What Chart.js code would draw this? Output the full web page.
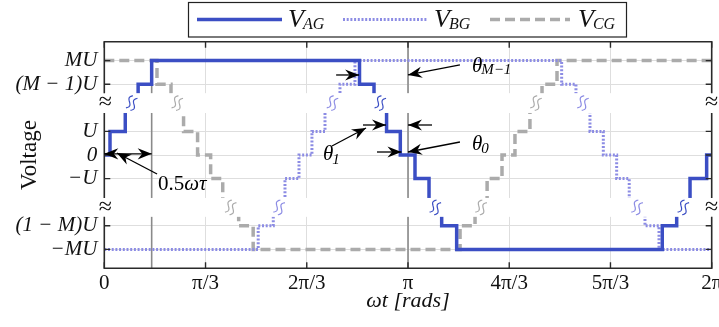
<!DOCTYPE html>
<html><head><meta charset="utf-8">
<script src="https://cdn.jsdelivr.net/npm/chart.js@4.4.1/dist/chart.umd.min.js"></script>
<style>html,body{margin:0;padding:0;overflow:hidden;background:#fff;width:719px;height:327px}canvas{display:block}</style>
</head><body>
<canvas id="c" width="740" height="327" style="width:740px;height:327px"></canvas>
<script>
const PI = Math.PI;
// ---- tick values and labels ----
const xTickValues = [0, PI/3, 2*PI/3, PI, 4*PI/3, 5*PI/3, 2*PI];
const xTickLabels = ['0', 'π/3', '2π/3', 'π', '4π/3', '5π/3', '2π'];
const yTickValues = [-4, -3, -1, 0, 1, 3, 4];
const yTickLabels = ['−MU', '(1 − M)U', '−U', '0', 'U', '(M − 1)U', 'MU'];

// ---- series: switching angles (rad) and the level reached there ----
const vagX = [0, 0.059, 0.217, 0.350, 0.490, 2.640, 2.790, 2.920, 3.062, 3.214, 3.359, 3.490, 3.645, 5.772, 5.921, 6.059, 6.231, 6.2832];
const vagY = [0, 1, 2, 3, 4, 3, 2, 1, 0, -1, -2, -3, -4, -3, -2, -1, 0, 0];
const vbgX = [0, 1.592, 1.748, 1.869, 2.014, 2.148, 2.283, 2.438, 2.593, 4.731, 4.879, 5.024, 5.162, 5.300, 5.430, 5.593, 5.738, 6.2832];
const vbgY = [-4, -3, -2, -1, 0, 1, 2, 3, 4, 3, 2, 1, 0, -1, -2, -3, -4, -4];
const vcgX = [0, 0.545, 0.690, 0.820, 0.965, 1.100, 1.225, 1.390, 1.540, 3.680, 3.835, 3.960, 4.114, 4.248, 4.403, 4.528, 4.683, 6.2832];
const vcgY = [4, 3, 2, 1, 0, -1, -2, -3, -4, -3, -2, -1, 0, 1, 2, 3, 4, 4];

// ---- annotation geometry (data coordinates) ----
const markerLines = [0.49, PI];
const breakBands = [[1.78, 2.62], [-2.62, -1.82]];
const hiddenLevels = [2, -2];
const arrows = [
  [0, 0.05, 0.49, 0.05, true],
  [0.546, -0.805, 0.131, 0.085, false],
  [2.398, 3.39, 2.636, 3.39, false],
  [3.679, 3.814, PI, 3.39, false],
  [2.676, 1.271, 2.914, 1.271, false],
  [3.39, 1.271, PI, 1.271, false],
  [2.355, 0.381, 2.707, 1.144, false],
  [2.821, 0.127, 3.074, 0.127, false],
  [3.679, 0.551, PI, 0.127, false]
];

const SERIF = '"Liberation Serif", "Times New Roman", serif';
const pts = (xs, ys) => xs.map((x, i) => ({x, y: ys[i]}));

function head(ctx, x1, y1, x2, y2) {
  const a = Math.atan2(y2 - y1, x2 - x1), L = 14, W = 5.6;
  const c = Math.cos(a), s = Math.sin(a);
  ctx.beginPath();
  ctx.moveTo(x2, y2);
  ctx.lineTo(x2 - L*c - W*s, y2 - L*s + W*c);
  ctx.lineTo(x2 - 0.68*L*c, y2 - 0.68*L*s);
  ctx.lineTo(x2 - L*c + W*s, y2 - L*s - W*c);
  ctx.closePath();
  ctx.fill();
}
function tildePair(ctx, cx, cy, color) {
  ctx.save();
  ctx.translate(cx, cy);
  ctx.rotate(-PI / 3);
  ctx.strokeStyle = color; ctx.lineWidth = 1.2;
  [-2.6, 2.6].forEach(off => {
    ctx.beginPath();
    for (let t = -7; t <= 7.01; t += 0.5) {
      const yy = off - 2.2 * Math.sin(t / 7 * PI);
      if (t === -7) ctx.moveTo(t, yy); else ctx.lineTo(t, yy);
    }
    ctx.stroke();
  });
  ctx.restore();
}
function subText(ctx, x, y, main, sub, ms, ss, dy, mainStyle) {
  ctx.font = (mainStyle || 'italic') + ' ' + ms + 'px ' + SERIF;
  ctx.fillText(main, x, y);
  const w = ctx.measureText(main).width;
  ctx.font = 'italic ' + ss + 'px ' + SERIF;
  ctx.fillText(sub, x + w - 1, y + dy);
}

const deco = {
  id: 'deco',
  beforeDatasetsDraw(chart) {
    const {ctx, chartArea: a, scales: {x, y}} = chart;
    ctx.save();
    ctx.strokeStyle = '#8a8a8a'; ctx.lineWidth = 1.6;
    markerLines.forEach((m, i) => {
      const px = x.getPixelForValue(m);
      ctx.beginPath();
      ctx.moveTo(px, i === 0 ? y.getPixelForValue(4) : a.top);
      ctx.lineTo(px, a.bottom);
      ctx.stroke();
    });
    ctx.restore();
  },
  afterDatasetsDraw(chart) {
    const {ctx, chartArea: a, scales: {x, y}} = chart;
    ctx.save();
    // break bands
    const bands = breakBands.map(b => [y.getPixelForValue(b[1]), y.getPixelForValue(b[0])]);
    ctx.fillStyle = '#fff';
    bands.forEach(b => ctx.fillRect(a.left - 1, b[0], a.right - a.left + 2, b[1] - b[0]));
    // frame
    ctx.strokeStyle = '#2a2a2a'; ctx.lineWidth = 1.6;
    ctx.beginPath();
    ctx.moveTo(a.left - 0.8, a.top); ctx.lineTo(a.right + 0.8, a.top);
    ctx.moveTo(a.left - 0.8, a.bottom); ctx.lineTo(a.right + 0.8, a.bottom);
    [a.left, a.right].forEach(px => {
      ctx.moveTo(px, a.top); ctx.lineTo(px, bands[0][0]);
      ctx.moveTo(px, bands[0][1]); ctx.lineTo(px, bands[1][0]);
      ctx.moveTo(px, bands[1][1]); ctx.lineTo(px, a.bottom);
    });
    ctx.stroke();
    // inward ticks
    ctx.lineWidth = 1.4;
    ctx.beginPath();
    xTickValues.forEach(v => {
      const px = x.getPixelForValue(v);
      ctx.moveTo(px, a.top); ctx.lineTo(px, a.top + 6);
      ctx.moveTo(px, a.bottom); ctx.lineTo(px, a.bottom - 6);
    });
    yTickValues.forEach(v => {
      const py = y.getPixelForValue(v);
      ctx.moveTo(a.left, py); ctx.lineTo(a.left + 6, py);
      ctx.moveTo(a.right, py); ctx.lineTo(a.right - 6, py);
    });
    ctx.stroke();
    // axis break glyphs
    ctx.fillStyle = '#111';
    ctx.textAlign = 'center'; ctx.textBaseline = 'middle';
    ctx.font = '24px ' + SERIF;
    bands.forEach(b => {
      const cy = (b[0] + b[1]) / 2;
      ctx.fillText('≈', a.left + 1, cy);
      ctx.fillText('≈', a.right, cy);
    });
    // series break marks
    chart.data.datasets.forEach(ds => {
      ds.data.forEach((p, i) => {
        const k = hiddenLevels.indexOf(p.y);
        if (k < 0 || i + 1 >= ds.data.length) return;
        const mx = x.getPixelForValue((p.x + ds.data[i + 1].x) / 2);
        const cy = (bands[k][0] + bands[k][1]) / 2;
        tildePair(ctx, mx, cy, ds.borderColor);
      });
    });
    // arrows
    ctx.strokeStyle = '#000'; ctx.fillStyle = '#000'; ctx.lineWidth = 1.3;
    arrows.forEach(ar => {
      const x1 = x.getPixelForValue(ar[0]), y1 = y.getPixelForValue(ar[1]);
      const x2 = x.getPixelForValue(ar[2]), y2 = y.getPixelForValue(ar[3]);
      ctx.beginPath(); ctx.moveTo(x1, y1); ctx.lineTo(x2, y2); ctx.stroke();
      head(ctx, x1, y1, x2, y2);
      if (ar[4]) head(ctx, x2, y2, x1, y1);
    });
    // annotation texts
    ctx.textAlign = 'left'; ctx.textBaseline = 'alphabetic';
    let tx = x.getPixelForValue(0.555), ty = y.getPixelForValue(-1.483);
    ctx.font = '21px ' + SERIF; ctx.fillText('0.5', tx, ty);
    let w = ctx.measureText('0.5').width;
    ctx.font = 'italic 21px ' + SERIF; ctx.fillText('ωτ', tx + w, ty);
    subText(ctx, x.getPixelForValue(3.803), y.getPixelForValue(3.53), 'θ', 'M−1', 21, 15, 2.5);
    subText(ctx, x.getPixelForValue(3.803), y.getPixelForValue(0.212), 'θ', '0', 21, 15, 3);
    subText(ctx, x.getPixelForValue(2.262), y.getPixelForValue(-0.212), 'θ', '1', 21, 15, 4);
    // legend
    ctx.fillStyle = '#fff'; ctx.strokeStyle = '#222'; ctx.lineWidth = 1.2;
    ctx.fillRect(188, 2, 439, 35); ctx.strokeRect(188.5, 2.5, 438, 34.5);
    const legendX = [[197, 282, 288], [343, 427, 434], [490, 570, 578]];
    const legendSub = ['AG', 'BG', 'CG'];
    chart.data.datasets.forEach((ds, i) => {
      const [s0, s1, t0] = legendX[i];
      ctx.save();
      ctx.strokeStyle = ds.borderColor; ctx.lineWidth = ds.borderWidth;
      ctx.setLineDash(ds.borderDash || []);
      ctx.beginPath(); ctx.moveTo(s0, 19.5); ctx.lineTo(s1, 19.5); ctx.stroke();
      ctx.restore();
      ctx.fillStyle = '#111';
      subText(ctx, t0, 26.7, 'V', legendSub[i], 26, 16, 2);
    });
    ctx.restore();
  }
};

new Chart(document.getElementById('c'), {
  type: 'line',
  data: {
    datasets: [
      {label: 'V_AG', data: pts(vagX, vagY), borderColor: '#3b4ec4', borderWidth: 3.5, stepped: true, pointRadius: 0, fill: false, borderJoinStyle: 'miter', borderCapStyle: 'butt'},
      {label: 'V_BG', data: pts(vbgX, vbgY), borderColor: '#8c8ce4', borderWidth: 3, borderDash: [2, 1.7], stepped: true, pointRadius: 0, fill: false, borderJoinStyle: 'miter', borderCapStyle: 'butt'},
      {label: 'V_CG', data: pts(vcgX, vcgY), borderColor: '#ababab', borderWidth: 3.5, borderDash: [10, 5], stepped: true, pointRadius: 0, fill: false, borderJoinStyle: 'miter', borderCapStyle: 'butt'}
    ]
  },
  options: {
    responsive: false, animation: false, devicePixelRatio: 1,
    layout: {padding: {top: 41.7, right: 28.3, bottom: 0, left: 0}},
    plugins: {legend: {display: false}, tooltip: {enabled: false}},
    scales: {
      x: {
        type: 'linear', min: 0, max: 2*PI,
        afterBuildTicks: s => { s.ticks = xTickValues.map(v => ({value: v})); },
        afterFit: s => { s.height = 58.7; },
        ticks: {callback: (v, i) => xTickLabels[i], font: {family: SERIF, size: 21}, color: '#111', padding: 3, maxRotation: 0, autoSkip: false},
        grid: {color: '#dedede', lineWidth: 1, drawTicks: false},
        border: {display: false},
        title: {display: true, text: 'ωt [rads]', font: {family: SERIF, size: 22, style: 'italic'}, color: '#111', padding: {top: 0, bottom: 13}}
      },
      y: {
        type: 'linear', min: -4.8, max: 4.8,
        afterBuildTicks: s => { s.ticks = yTickValues.map(v => ({value: v})); },
        afterFit: s => { s.width = 104.3; },
        ticks: {callback: (v, i) => yTickLabels[i], font: {family: SERIF, size: 21, style: 'italic'}, color: '#111', padding: 7, autoSkip: false},
        grid: {color: '#dedede', lineWidth: 1, drawTicks: false},
        border: {display: false},
        title: {display: true, text: 'Voltage', font: {family: SERIF, size: 23}, color: '#111', padding: {top: 16, bottom: 0}}
      }
    }
  },
  plugins: [deco]
});
</script>
</body></html>
